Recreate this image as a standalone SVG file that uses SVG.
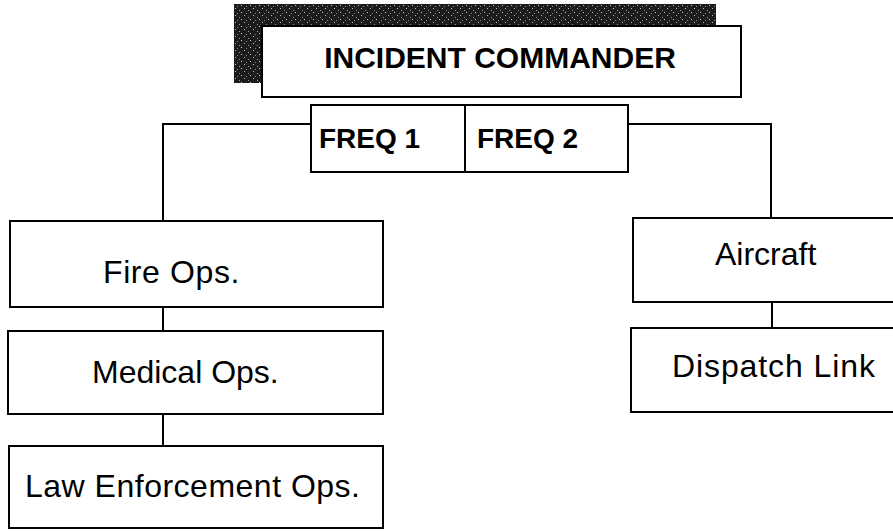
<svg xmlns="http://www.w3.org/2000/svg" width="893" height="532" viewBox="0 0 893 532">
<style>
.box{fill:#fff;stroke:#000;stroke-width:2}
.ln{fill:none;stroke:#000;stroke-width:2}
.t{font-family:"Liberation Sans",Arial,sans-serif;font-size:32px;fill:#000}
.b{font-family:"Liberation Sans",Arial,sans-serif;font-weight:bold;fill:#000}
</style>
<defs>
<pattern id="speck" width="9" height="7" patternUnits="userSpaceOnUse">
<rect x="1" y="1" width="1" height="1" fill="#bbb"/>
<rect x="5" y="3" width="1" height="1" fill="#999"/>
<rect x="7" y="5" width="1" height="1" fill="#ccc"/>
<rect x="3" y="6" width="1" height="1" fill="#888"/>
</pattern>
</defs>
<g id="connectors">
<polyline class="ln" points="311,124 163,124 163,221"/>
<polyline class="ln" points="628,124 771,124 771,218"/>
<line class="ln" x1="163" y1="307" x2="163" y2="331"/>
<line class="ln" x1="163" y1="414" x2="163" y2="446"/>
<line class="ln" x1="772" y1="302" x2="772" y2="328"/>
</g>
<g id="incident-commander">
<rect x="234" y="4" width="482" height="79" fill="#1c1c1c"/>
<rect x="234" y="4" width="482" height="79" fill="url(#speck)"/>
<rect x="262" y="26" width="479" height="71" class="box"/>
<text class="b" x="500" y="68" font-size="30" text-anchor="middle">INCIDENT COMMANDER</text>
</g>
<g id="freq">
<rect x="311" y="105" width="317" height="67" class="box"/>
<line class="ln" x1="465" y1="105" x2="465" y2="172"/>
<text class="b" x="319" y="148" font-size="28">FREQ 1</text>
<text class="b" x="477" y="148" font-size="28">FREQ 2</text>
</g>
<g id="fire-ops">
<rect x="10" y="221" width="373" height="86" class="box"/>
<text class="t" x="103" y="283" letter-spacing="0.6">Fire Ops.</text>
</g>
<g id="medical-ops">
<rect x="8" y="331" width="375" height="83" class="box"/>
<text class="t" x="92" y="383">Medical Ops.</text>
</g>
<g id="law-enforcement-ops">
<rect x="9" y="446" width="374" height="82" class="box"/>
<text class="t" x="25" y="497" letter-spacing="0.5">Law Enforcement Ops.</text>
</g>
<g id="aircraft">
<rect x="633" y="218" width="270" height="84" class="box"/>
<text class="t" x="715" y="265">Aircraft</text>
</g>
<g id="dispatch-link">
<rect x="631" y="328" width="272" height="84" class="box"/>
<text class="t" x="672" y="377" letter-spacing="0.9">Dispatch Link</text>
</g>
</svg>
